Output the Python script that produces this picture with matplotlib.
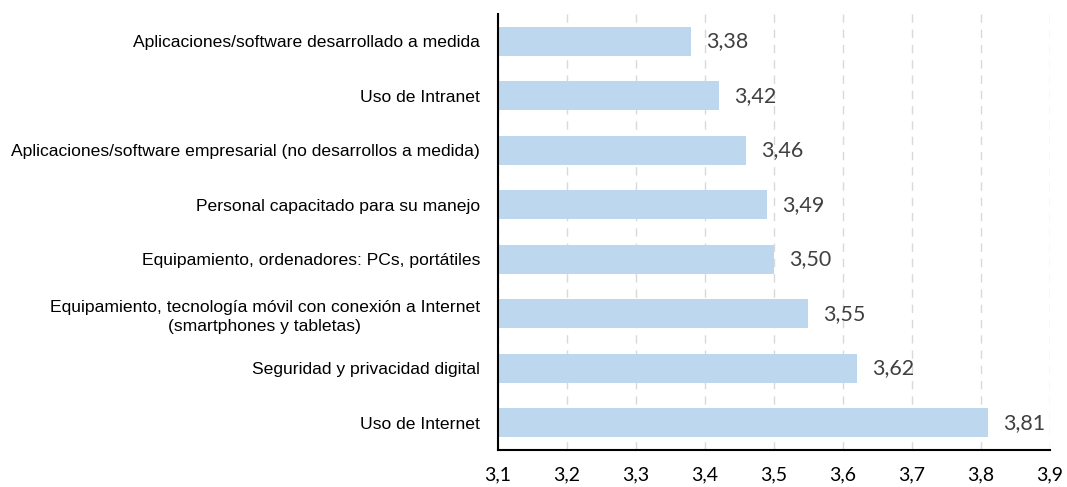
import matplotlib
matplotlib.use("Agg")
import matplotlib.pyplot as plt
from matplotlib.ticker import FixedLocator
from matplotlib import font_manager

categories = [
    "Aplicaciones/software desarrollado a medida",
    "Uso de Intranet",
    "Aplicaciones/software empresarial (no desarrollos a medida)",
    "Personal capacitado para su manejo",
    "Equipamiento, ordenadores: PCs, portátiles",
    "Equipamiento, tecnología móvil con conexión a Internet\n(smartphones y tabletas)",
    "Seguridad y privacidad digital",
    "Uso de Internet",
]
values = [3.38, 3.42, 3.46, 3.49, 3.50, 3.55, 3.62, 3.81]
value_labels = ["3,38", "3,42", "3,46", "3,49", "3,50", "3,55", "3,62", "3,81"]
xticks = [3.1, 3.2, 3.3, 3.4, 3.5, 3.6, 3.7, 3.8, 3.9]
xtick_labels = ["3,1", "3,2", "3,3", "3,4", "3,5", "3,6", "3,7", "3,8", "3,9"]

names = {f.name for f in font_manager.fontManager.ttflist}
narrow = "Liberation Sans Narrow" if "Liberation Sans Narrow" in names else "Liberation Sans"
label_size = 15 if narrow == "Liberation Sans Narrow" else 12.6

fig = plt.figure(figsize=(10.67, 4.87), dpi=100)
ax = fig.add_axes([498/1067, 1 - 450/487, (1050 - 498)/1067, (450 - 14)/487])

y = list(range(len(categories)))
x0 = 3.1
ax.barh(y, [v - x0 for v in values], left=x0, height=0.54, color="#BDD7EE", zorder=3)
ax.set_xlim(3.1, 3.9)
ax.set_ylim(len(categories) - 0.5, -0.5)

ax.xaxis.set_major_locator(FixedLocator(xticks))
ax.set_xticklabels(xtick_labels, fontfamily="Lato", fontsize=14, color="#000000")
ax.set_yticks(y)
ax.set_yticklabels(categories, fontfamily=narrow, fontsize=label_size, color="#000000",
                   multialignment="center", linespacing=1.35)
ax.tick_params(axis="both", length=0)
ax.tick_params(axis="y", pad=13)
ax.tick_params(axis="x", pad=12)

ax.grid(axis="x", color="#D9D9D9", linestyle=(0, (6, 5)), linewidth=1.0, zorder=0)
ax.grid(axis="y", visible=False)
for s in ["top", "right"]:
    ax.spines[s].set_visible(False)
ax.spines["left"].set_linewidth(1.5)
ax.spines["bottom"].set_linewidth(1.5)
ax.spines["left"].set_zorder(4)

for yi, v, lab in zip(y, values, value_labels):
    ax.annotate(lab, (v, yi), xytext=(15, 0), textcoords="offset pixels",
                ha="left", va="center", fontfamily="Lato", fontsize=15.5, color="#404040", zorder=5)

fig.savefig("out.png", dpi=100)
